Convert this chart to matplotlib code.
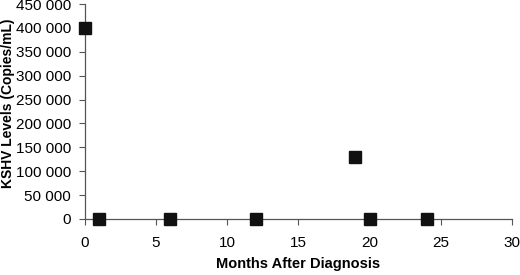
import matplotlib
matplotlib.use("Agg")
import matplotlib.pyplot as plt
from matplotlib.ticker import FuncFormatter

months = [0, 1, 6, 12, 19, 20, 24]
kshv = [400000, 0, 0, 0, 130000, 0, 0]
xticks = [0, 5, 10, 15, 20, 25, 30]
yticks = list(range(0, 450001, 50000))

plt.rcParams['font.family'] = ['Liberation Sans', 'DejaVu Sans']
fig = plt.figure(figsize=(5.2, 2.75), dpi=100)
ax = fig.add_axes([0.163, 0.204, 0.822, 0.781])
ax.plot(months, kshv, linestyle='none', marker='s', markersize=8,
        color='#111111', clip_on=False, zorder=3)
ax.set_xlim(0, 30)
ax.set_ylim(0, 450000)
ax.set_xticks(xticks)
ax.set_yticks(yticks)
ax.yaxis.set_major_formatter(FuncFormatter(lambda v, p: f"{int(v):,}".replace(",", " ")))
for s in ['top', 'right']:
    ax.spines[s].set_visible(False)
for s in ['left', 'bottom']:
    ax.spines[s].set_color('#555555')
    ax.spines[s].set_linewidth(0.9)
ax.tick_params(axis='both', direction='out', length=4, width=0.8, color='#555555',
               labelsize=11, pad=6)
ax.tick_params(axis='x', pad=8)
ax.set_xlabel('Months After Diagnosis', fontsize=10.5, fontweight='bold', labelpad=5)
ax.set_ylabel('KSHV Levels (Copies/mL)', fontsize=10, fontweight='bold')
ax.yaxis.set_label_coords(-0.163, 0.54)
fig.savefig('out.png', dpi=100)
